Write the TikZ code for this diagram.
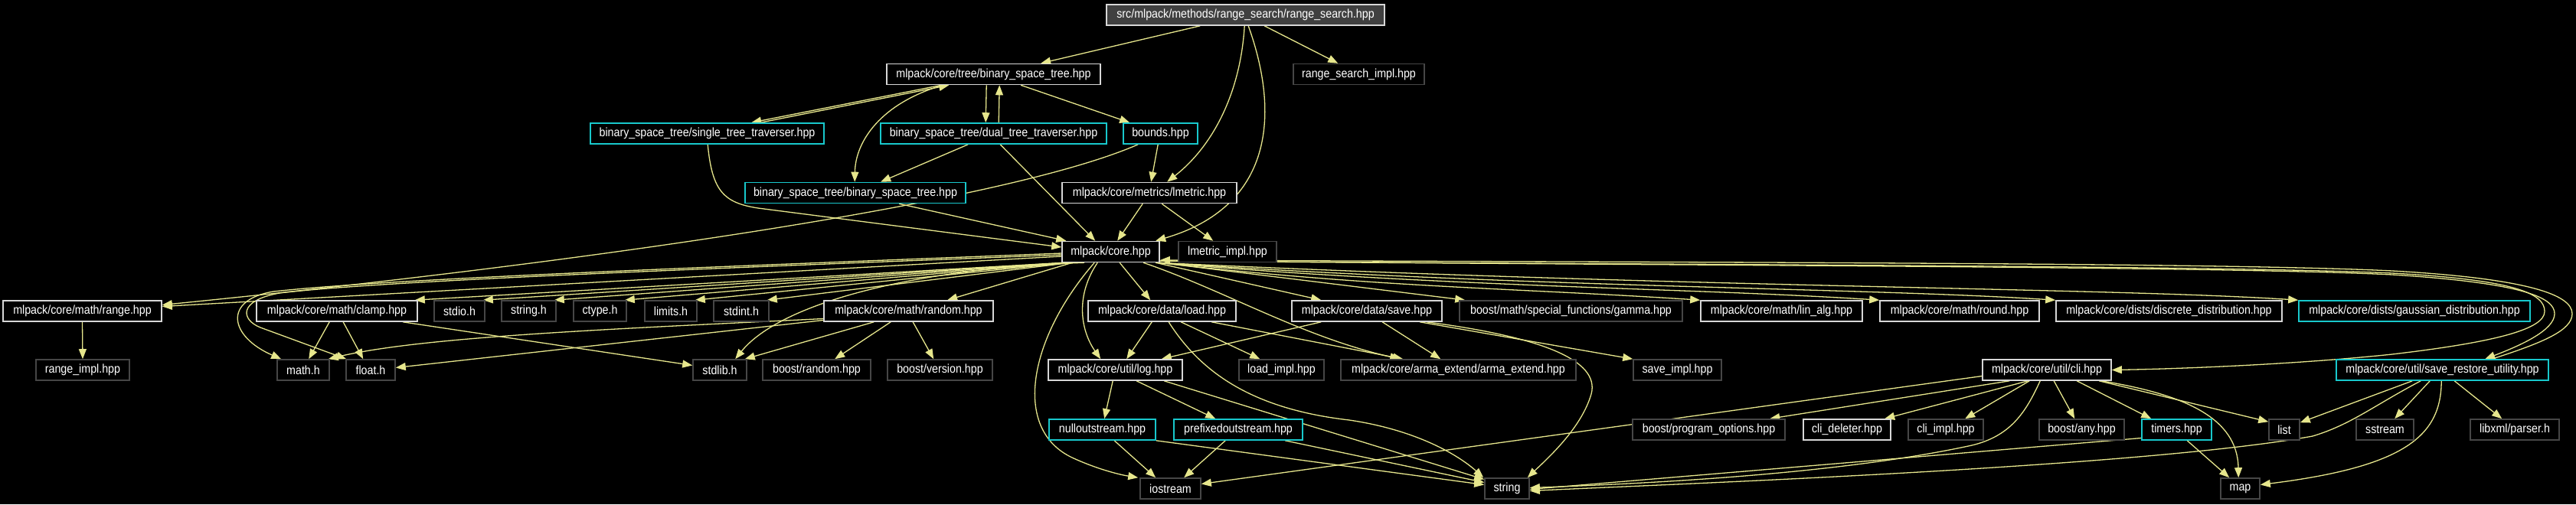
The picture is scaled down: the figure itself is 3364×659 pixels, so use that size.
\documentclass[tikz,border=0pt]{standalone}
\usepackage{fontspec}
\setmainfont{Liberation Sans}[FakeStretch=0.89]
\usetikzlibrary{arrows.meta}
\definecolor{edgec}{RGB}{230,230,140}
\definecolor{docb}{RGB}{215,215,215}
\definecolor{extb}{RGB}{70,70,70}
\definecolor{cyanb}{RGB}{24,200,204}
\definecolor{rootf}{RGB}{64,64,64}
\pgfdeclarelayer{bg}
\pgfsetlayers{bg,main}
\begin{document}
\begin{tikzpicture}[x=1pt,y=-1pt,
  nbox/.style={draw, line width=1.6pt, text=white, fill=black, minimum height=27pt, inner xsep=2pt, inner ysep=0pt, anchor=center, font=\fontsize{16pt}{19pt}\selectfont},
  doc/.style={nbox, draw=docb},
  ext/.style={nbox, draw=extb},
  cyn/.style={nbox, draw=cyanb},
  rootbox/.style={nbox, draw=docb, fill=rootf},
  conn/.style={draw=edgec, line width=1.3pt, -{Triangle[length=13pt,width=10pt]}}
]
\useasboundingbox (0,0) rectangle (3364,659);
% row 0
\node[rootbox, minimum width=363pt] (root) at (1626.5,19.5) {src/mlpack/methods/range\_search/range\_search.hpp};
% row 1
\node[doc, minimum width=279pt] (bst) at (1297.5,97) {mlpack/core/tree/binary\_space\_tree.hpp};
\node[ext, minimum width=171pt] (rsi) at (1774.5,97) {range\_search\_impl.hpp};
% row 2
\node[cyn, minimum width=305pt] (stt) at (923.5,174.5) {binary\_space\_tree/single\_tree\_traverser.hpp};
\node[cyn, minimum width=295pt] (dtt) at (1297.5,174.5) {binary\_space\_tree/dual\_tree\_traverser.hpp};
\node[cyn, minimum width=97pt] (bounds) at (1515.5,174.5) {bounds.hpp};
% row 3
\node[cyn, minimum width=288pt] (bstb) at (1117,252) {binary\_space\_tree/binary\_space\_tree.hpp};
\node[doc, minimum width=228pt] (lmetric) at (1501,252) {mlpack/core/metrics/lmetric.hpp};
% row 4
\node[doc, minimum width=127pt] (core) at (1450.5,329) {mlpack/core.hpp};
\node[ext, minimum width=128pt] (lmi) at (1603,329) {lmetric\_impl.hpp};
% row 5
\node[doc, minimum width=207pt] (range) at (107.5,406.5) {mlpack/core/math/range.hpp};
\node[doc, minimum width=210pt] (clamp) at (440,406.5) {mlpack/core/math/clamp.hpp};
\node[ext, minimum width=66pt] (stdio) at (600,406.5) {stdio.h};
\node[ext, minimum width=71pt] (stringh) at (690.5,406.5) {string.h};
\node[ext, minimum width=69pt] (ctype) at (783.5,406.5) {ctype.h};
\node[ext, minimum width=68pt] (limits) at (876,406.5) {limits.h};
\node[ext, minimum width=72pt] (stdint) at (968,406.5) {stdint.h};
\node[doc, minimum width=221pt] (random) at (1186.5,406.5) {mlpack/core/math/random.hpp};
\node[doc, minimum width=193pt] (load) at (1517.5,406.5) {mlpack/core/data/load.hpp};
\node[doc, minimum width=196pt] (save) at (1785,406.5) {mlpack/core/data/save.hpp};
\node[ext, minimum width=291pt] (gamma) at (2051.5,406.5) {boost/math/special\_functions/gamma.hpp};
\node[doc, minimum width=211pt] (linalg) at (2326.5,406.5) {mlpack/core/math/lin\_alg.hpp};
\node[doc, minimum width=208pt] (round) at (2559,406.5) {mlpack/core/math/round.hpp};
\node[doc, minimum width=295pt] (discrete) at (2832.5,406.5) {mlpack/core/dists/discrete\_distribution.hpp};
\node[cyn, minimum width=302pt] (gaussian) at (3153,406.5) {mlpack/core/dists/gaussian\_distribution.hpp};
% row 6
\node[ext, minimum width=122pt] (rimpl) at (108,483.5) {range\_impl.hpp};
\node[ext, minimum width=68pt] (mathh) at (396,483.5) {math.h};
\node[ext, minimum width=64pt] (floath) at (484,483.5) {float.h};
\node[ext, minimum width=70pt] (stdlib) at (940,483.5) {stdlib.h};
\node[ext, minimum width=141pt] (brandom) at (1066.5,483.5) {boost/random.hpp};
\node[ext, minimum width=137pt] (bversion) at (1227.5,483.5) {boost/version.hpp};
\node[doc, minimum width=175pt] (log) at (1456.5,483.5) {mlpack/core/util/log.hpp};
\node[ext, minimum width=111pt] (loadimpl) at (1673.5,483.5) {load\_impl.hpp};
\node[ext, minimum width=307pt] (arma) at (1904.5,483.5) {mlpack/core/arma\_extend/arma\_extend.hpp};
\node[ext, minimum width=115pt] (saveimpl) at (2190.5,483.5) {save\_impl.hpp};
\node[doc, minimum width=168pt] (cli) at (2673,483.5) {mlpack/core/util/cli.hpp};
\node[cyn, minimum width=277pt] (sru) at (3189.5,483.5) {mlpack/core/util/save\_restore\_utility.hpp};
% row 7
\node[cyn, minimum width=139pt] (nullout) at (1439.5,561.5) {nulloutstream.hpp};
\node[cyn, minimum width=168pt] (prefixed) at (1617,561.5) {prefixedoutstream.hpp};
\node[ext, minimum width=199pt] (progopt) at (2231.5,561.5) {boost/program\_options.hpp};
\node[doc, minimum width=114pt] (clidel) at (2412,561.5) {cli\_deleter.hpp};
\node[ext, minimum width=98pt] (cliimpl) at (2541,561.5) {cli\_impl.hpp};
\node[ext, minimum width=111pt] (any) at (2718.5,561.5) {boost/any.hpp};
\node[cyn, minimum width=91pt] (timers) at (2842.5,561.5) {timers.hpp};
\node[ext, minimum width=40pt] (list) at (2983,561.5) {list};
\node[ext, minimum width=75pt] (sstream) at (3114.5,561.5) {sstream};
\node[ext, minimum width=116pt] (libxml) at (3284,561.5) {libxml/parser.h};
% row 8
\node[ext, minimum width=79pt] (iostream) at (1528.5,638.5) {iostream};
\node[ext, minimum width=58pt] (string) at (1968,638.5) {string};
\node[ext, minimum width=51pt] (map) at (2925.5,638.5) {map};

\begin{pgfonlayer}{bg}
\fill[black] (0,0) rectangle (3364,659);
% root
\draw[conn] ([xshift=123pt]root.south west) -- ([xshift=202pt]bst.north west);
\draw[conn] ([xshift=207pt]root.south west) -- ([xshift=59pt]rsi.north west);
\draw[conn] ([xshift=181pt]root.south west) .. controls (1620,120) and (1585,190) .. ([xshift=138pt]lmetric.north west);
\draw[conn] ([xshift=186pt]root.south west) .. controls (1672,150) and (1662,270) .. ([xshift=123pt]core.north west);
% bst
\draw[conn] ([xshift=72pt]bst.south west) -- ([xshift=211pt]stt.north west);
\draw[conn] ([xshift=223pt]stt.north west) -- ([xshift=82pt]bst.south west);
\draw[conn] ([xshift=131pt]bst.south west) -- ([xshift=138pt]dtt.north west);
\draw[conn] ([xshift=155pt]dtt.north west) -- ([xshift=148pt]bst.south west);
\draw[conn] ([xshift=176pt]bst.south west) -- ([xshift=9pt]bounds.north west);
\draw[conn] ([xshift=74pt]bst.south west) .. controls (1150,135) and (1117,185) .. ([xshift=144pt]bstb.north west);
% dtt, stt, bstb
\draw[conn] ([xshift=115pt]dtt.south west) -- ([xshift=178pt]bstb.north west);
\draw[conn] ([xshift=157pt]dtt.south west) -- ([xshift=44pt]core.north west);
\draw[conn] ([xshift=154pt]stt.south west) .. controls (930,250) and (945,265) .. (990,272) -- ([yshift=6pt]core.west);
\draw[conn] ([xshift=202pt]bstb.south west) -- ([xshift=6pt]core.north west);
% bounds, lmetric
\draw[conn] ([xshift=46pt]bounds.south west) -- ([xshift=117pt]lmetric.north west);
\draw[conn] ([xshift=20pt]bounds.south west) .. controls (1300,270) and (700,350) .. ([yshift=8pt]range.east);
\draw[conn] ([xshift=106pt]lmetric.south west) -- ([xshift=73pt]core.north west);
\draw[conn] ([xshift=131pt]lmetric.south west) -- ([xshift=46pt]lmi.north west);
% core to the left
\draw[conn] ([yshift=-6pt]core.west) -- ([yshift=6pt]range.east);
\draw[conn] ([xshift=2pt]core.south west) -- ([xshift=-4pt]clamp.north east);
\draw[conn] ([xshift=4pt]core.south west) -- ([xshift=-3pt]stdio.north east);
\draw[conn] ([xshift=6pt]core.south west) -- ([xshift=-3pt]stringh.north east);
\draw[conn] ([xshift=8pt]core.south west) -- ([xshift=-3pt]ctype.north east);
\draw[conn] ([xshift=10pt]core.south west) -- ([xshift=-3pt]limits.north east);
\draw[conn] ([xshift=12pt]core.south west) -- ([xshift=-3pt]stdint.north east);
\draw[conn] ([xshift=14pt]core.south west) -- ([xshift=162pt]random.north west);
\draw[conn] ([xshift=30pt]core.south west) .. controls (1200,350) and (1020,395) .. ([xshift=56pt]stdlib.north west);
\draw[conn] ([yshift=-2pt]core.west) .. controls (900,350) and (500,365) .. (357,381) .. controls (290,392) and (300,440) .. ([xshift=6pt]mathh.north west);
\draw[conn] ([yshift=-4pt]core.west) .. controls (900,352) and (500,367) .. (365,383) .. controls (310,393) and (315,418) .. (340,428) -- ([xshift=1pt]floath.north west);
% clamp, random, range
\draw[conn] ([xshift=96pt]clamp.south west) -- ([xshift=42pt]mathh.north west);
\draw[conn] ([xshift=114pt]clamp.south west) -- ([xshift=23pt]floath.north west);
\draw[conn] ([xshift=192pt]clamp.south west) -- ([yshift=6pt]stdlib.west);
\draw[conn] ([yshift=-10pt]random.west) .. controls (800,430) and (550,440) .. ([xshift=-2pt]mathh.north east);
\draw[conn] ([yshift=-12pt]random.west) -- ([yshift=3pt]floath.east);
\draw[conn] ([xshift=66pt]random.south west) -- ([xshift=-3pt]stdlib.north east);
\draw[conn] ([xshift=88pt]random.south west) -- ([xshift=95pt]brandom.north west);
\draw[conn] ([xshift=117pt]random.south west) -- ([xshift=61pt]bversion.north west);
\draw[conn] (range.south) -- (rimpl.north);
% core downwards
\draw[conn] ([xshift=76pt]core.south west) -- ([xshift=82pt]load.north west);
\draw[conn] ([xshift=47pt]core.south west) .. controls (1405,385) and (1410,430) .. ([xshift=69pt]log.north west);
\draw[conn] ([xshift=43pt]core.south west) .. controls (1345,440) and (1320,560) .. (1400,598) .. controls (1430,612) and (1460,620) .. ([xshift=-2pt]iostream.north west);
\draw[conn] ([xshift=107pt]core.south west) .. controls (1600,380) and (1700,440) .. ([xshift=78pt]arma.north west);
\draw[conn] ([xshift=123pt]core.south west) -- ([xshift=39pt]save.north west);
\draw[conn] (core.south east) -- ([xshift=8pt]gamma.north west);
% core to the right
\draw[conn] ([xshift=-2pt]core.south east) .. controls (1800,376) and (1970,376) .. (linalg.north west);
\draw[conn] ([xshift=-2pt]core.south east) .. controls (1900,376) and (2200,376) .. (round.north west);
\draw[conn] ([xshift=-2pt]core.south east) .. controls (2000,376) and (2430,376) .. (discrete.north west);
\draw[conn] ([xshift=-2pt]core.south east) .. controls (2200,376) and (2750,376) .. (gaussian.north west);
\draw[conn] ([yshift=-12pt]core.east) .. controls (2200,346) and (2900,347) .. (3124,357) .. controls (3290,366) and (3323,385) .. (3323,407) .. controls (3323,430) and (3260,447) .. (3124,463) .. controls (3000,476) and (2850,482) .. (cli.east);
\draw[conn] ([yshift=-12pt]core.east) .. controls (2200,347) and (2900,348) .. (3124,359) .. controls (3300,370) and (3336,390) .. (3336,410) .. controls (3336,432) and (3290,452) .. ([xshift=195pt]sru.north west);
\draw[conn] ([xshift=204pt]sru.north west) .. controls (3320,448) and (3359,432) .. (3359,410) .. controls (3359,385) and (3300,364) .. (3124,354) .. controls (2900,343) and (2200,343) .. ([yshift=-11pt]core.east);
% load, save
\draw[conn] ([xshift=84pt]load.south west) -- ([xshift=103pt]log.north west);
\draw[conn] ([xshift=122pt]load.south west) -- ([xshift=28pt]loadimpl.north west);
\draw[conn] ([xshift=162pt]load.south west) -- ([xshift=82pt]arma.north west);
\draw[conn] ([xshift=106pt]load.south west) .. controls (1570,490) and (1640,535) .. (1762,549) .. controls (1850,562) and (1905,595) .. ([xshift=-1pt]string.north west);
\draw[conn] ([xshift=39pt]save.south west) -- ([xshift=-28pt]log.north east);
\draw[conn] ([xshift=119pt]save.south west) -- ([xshift=131pt]arma.north west);
\draw[conn] ([xshift=168pt]save.south west) -- (saveimpl.north west);
\draw[conn] ([xshift=177pt]save.south west) .. controls (2010,440) and (2090,470) .. (2078,515) .. controls (2065,560) and (2020,600) .. ([xshift=-3pt]string.north east);
% log
\draw[conn] ([xshift=85pt]log.south west) -- ([xshift=73pt]nullout.north west);
\draw[conn] ([xshift=116pt]log.south west) -- ([xshift=55pt]prefixed.north west);
\draw[conn] ([xshift=152pt]log.south west) -- ([yshift=12pt]string.west);
\draw[conn] ([xshift=86pt]nullout.south west) -- ([xshift=21pt]iostream.north west);
\draw[conn] (nullout.south east) -- ([yshift=5pt]string.west);
\draw[conn] ([xshift=68pt]prefixed.south west) -- ([xshift=58pt]iostream.north west);
\draw[conn] ([xshift=146pt]prefixed.south west) -- ([yshift=8pt]string.west);
% cli
\draw[conn] ([yshift=-8pt]cli.west) -- ([yshift=6pt]iostream.east);
\draw[conn] ([xshift=36pt]cli.south west) -- ([xshift=180pt]progopt.north west);
\draw[conn] ([xshift=60pt]cli.south west) -- ([xshift=107pt]clidel.north west);
\draw[conn] ([xshift=62pt]cli.south west) -- ([xshift=75pt]cliimpl.north west);
\draw[conn] ([xshift=94pt]cli.south west) -- ([xshift=47pt]any.north west);
\draw[conn] ([xshift=124pt]cli.south west) -- ([xshift=13pt]timers.north west);
\draw[conn] ([xshift=153pt]cli.south west) -- ([yshift=-4pt]list.north west);
\draw[conn] ([xshift=156pt]cli.south west) .. controls (2850,515) and (2922,545) .. ([xshift=24pt]map.north west);
\draw[conn] ([xshift=76pt]cli.south west) .. controls (2645,540) and (2625,570) .. (2575,582) .. controls (2400,620) and (2150,632) .. ([yshift=1pt]string.east);
\draw[conn] ([xshift=60pt]timers.south west) -- ([xshift=12pt]map.north west);
\draw[conn] ([yshift=-11pt]timers.west) -- ([yshift=-1pt]string.east);
% sru
\draw[conn] ([xshift=100pt]sru.south west) -- ([yshift=-5pt]list.north east);
\draw[conn] ([xshift=111pt]sru.south west) .. controls (3100,530) and (3070,555) .. (3020,570) .. controls (2800,610) and (2200,632) .. ([yshift=-3pt]string.east);
\draw[conn] ([xshift=123pt]sru.south west) -- ([xshift=51pt]sstream.north west);
\draw[conn] ([xshift=138pt]sru.south west) .. controls (3188,570) and (3140,610) .. ([yshift=5pt]map.east);
\draw[conn] ([xshift=155pt]sru.south west) -- ([xshift=42pt]libxml.north west);
\end{pgfonlayer}
\end{tikzpicture}
\end{document}
